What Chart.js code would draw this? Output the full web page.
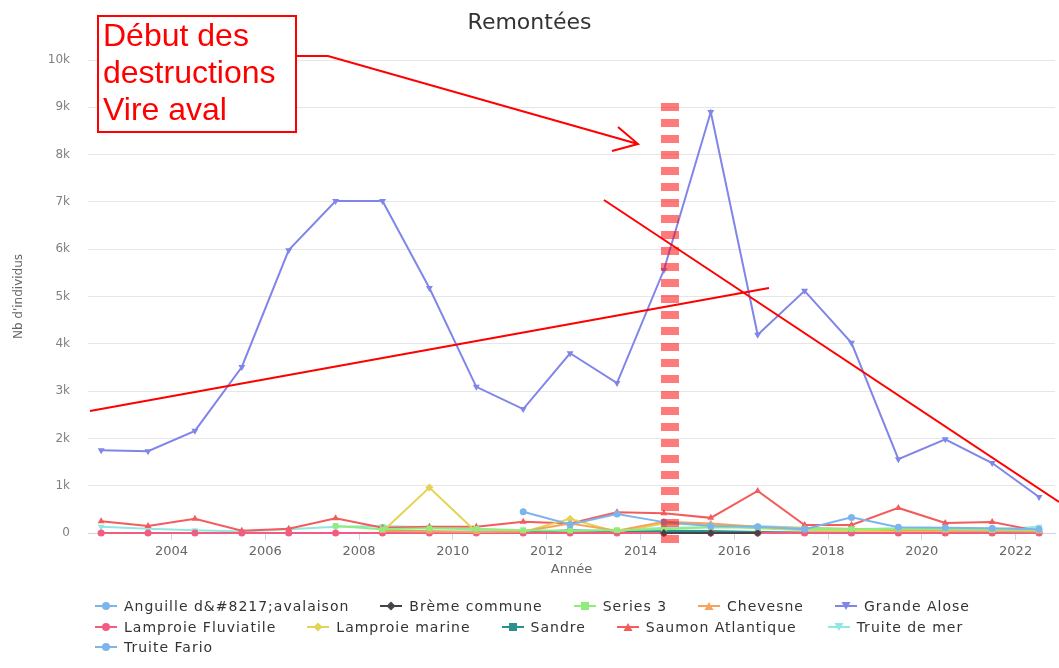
<!DOCTYPE html>
<html>
<head>
<meta charset="utf-8">
<title>Remontées</title>
<script src="https://cdn.jsdelivr.net/npm/chart.js@4/dist/chart.umd.min.js"></script>
<style>
  html, body { margin: 0; padding: 0; background: #fff; }
  #wrap { position: relative; width: 1059px; height: 668px; overflow: hidden; }
  #legend {
    position: absolute; left: 95px; top: 596px; width: 920px;
    display: flex; flex-wrap: wrap;
    font: 14px "DejaVu Sans", sans-serif; letter-spacing: 1px; color: #333;
  }
  .item { display: flex; align-items: center; height: 20.5px; margin-right: 31px; white-space: nowrap; }
  .item svg { margin-right: 7px; }
</style>
</head>
<body>
<div id="wrap">
  <canvas id="chart" width="1059" height="668"></canvas>
  <div id="legend"></div>
</div>
<script>
// années (points placés en milieu d'année)
const years = [2002, 2003, 2004, 2005, 2006, 2007, 2008, 2009, 2010, 2011, 2012,
               2013, 2014, 2015, 2016, 2017, 2018, 2019, 2020, 2021, 2022];
const xTicks = [2004, 2006, 2008, 2010, 2012, 2014, 2016, 2018, 2020, 2022];

// séries
const anguille = [null, null, null, null, null, null, null, null, null, 450, 180,
                  400, 230, 150, 130, 80, 330, 120, 110, 100, 80];
const breme = [null, null, null, null, null, null, null, null, null, null, null,
               null, 0, 0, 0, null, null, null, null, null, null];
const series3 = [null, null, null, null, null, 150, 80, 100, 90, 60, 50,
                 60, 80, 120, 110, 90, 80, 90, 80, 70, 60];
const chevesne = [null, null, null, null, null, null, 40, 30, 20, 30, 200,
                  50, 240, 200, 130, 100, 90, 60, 50, 40, 30];
const grandeAlose = [1750, 1730, 2160, 3510, 5980, 7020, 7020, 5180, 3090, 2620, 3800,
                     3170, 5560, 8900, 4190, 5120, 4020, 1560, 1980, 1480, 760];
const lamproieFluviatile = [0, 0, 0, 0, 0, 0, 0, 0, 0, 0, 0,
                            0, 0, 0, 0, 0, 0, 0, 0, 0, 0];
const lamproieMarine = [null, null, null, null, null, null, 30, 960, 20, 20, 300,
                        20, 200, 170, 100, 60, 40, 30, 30, 30, 20];
const sandre = [null, null, null, null, null, null, 40, 30, 20, 10, 60,
                30, 50, 40, 20, 10, 10, 10, 10, 10, 10];
const saumon = [250, 150, 300, 50, 90, 310, 110, 130, 130, 240, 200,
                440, 420, 320, 890, 170, 170, 530, 210, 230, 40];
const truiteMer = [130, 90, 60, 30, 80, 130, 150, 120, 60, 40, 40,
                   60, 110, 120, 150, 110, 80, 100, 90, 70, 130];
const truiteFario = [null, null, null, null, null, null, null, null, null, null, null,
                     null, null, null, null, null, null, null, null, null, null];

const seriesNames = ['Anguille d&#8217;avalaison', 'Brème commune', 'Series 3', 'Chevesne',
                     'Grande Alose', 'Lamproie Fluviatile', 'Lamproie marine', 'Sandre',
                     'Saumon Atlantique', 'Truite de mer', 'Truite Fario'];
const seriesValues = [anguille, breme, series3, chevesne, grandeAlose, lamproieFluviatile,
                      lamproieMarine, sandre, saumon, truiteMer, truiteFario];

// palette et symboles Highcharts par défaut
const colors = ['#7cb5ec', '#434348', '#90ed7d', '#f7a35c', '#8085e9',
                '#f15c80', '#e4d354', '#2b908f', '#f45b5b', '#91e8e1'];
const symbols = ['circle', 'diamond', 'square', 'triangle', 'triangle-down'];

function pointStyleOf(sym) {
    if (sym === 'diamond') return 'rectRot';
    if (sym === 'square') return 'rect';
    if (sym === 'triangle' || sym === 'triangle-down') return 'triangle';
    return 'circle';
}

const datasets = seriesNames.map((name, i) => {
    const color = colors[i % colors.length];
    const sym = symbols[i % symbols.length];
    return {
        label: name,
        data: years.map((yr, k) => ({ x: yr + 0.5, y: seriesValues[i][k] })),
        borderColor: color,
        backgroundColor: color,
        borderWidth: 2,
        pointStyle: pointStyleOf(sym),
        pointRotation: sym === 'triangle-down' ? 180 : 0,
        pointRadius: sym === 'circle' ? 3.5 : 4,
        pointBorderWidth: 0,
        pointBackgroundColor: color,
        tension: 0,
        clip: false
    };
});

/**
 * Annotations rouges dessinées à la main sur la capture
 */
const annotations = {
    id: 'annotations',
    afterDraw(chart) {
        const ctx = chart.ctx;
        ctx.save();
        // barre verticale pointillée
        ctx.strokeStyle = 'rgba(255, 0, 0, 0.52)';
        ctx.lineWidth = 18;
        ctx.setLineDash([8, 8]);
        ctx.lineDashOffset = 8;
        ctx.beginPath();
        ctx.moveTo(670, 95);
        ctx.lineTo(670, 545);
        ctx.stroke();
        ctx.setLineDash([]);

        ctx.strokeStyle = '#ff0000';
        ctx.lineWidth = 2;
        // droite montante
        ctx.beginPath();
        ctx.moveTo(90, 411);
        ctx.lineTo(769, 288);
        ctx.stroke();
        // droite descendante
        ctx.beginPath();
        ctx.moveTo(604, 200);
        ctx.lineTo(1059, 502);
        ctx.stroke();
        // flèche
        ctx.beginPath();
        ctx.moveTo(296, 56);
        ctx.lineTo(328, 56);
        ctx.lineTo(638, 144);
        ctx.moveTo(618, 127);
        ctx.lineTo(638, 144);
        ctx.lineTo(612, 151);
        ctx.stroke();
        // cadre + texte
        ctx.fillStyle = '#ffffff';
        ctx.fillRect(98, 16, 198, 116);
        ctx.strokeRect(98, 16, 198, 116);
        ctx.fillStyle = '#ff0000';
        ctx.font = '32px "Liberation Sans", Arial, sans-serif';
        ctx.textBaseline = 'alphabetic';
        ctx.fillText('Début des', 103, 46);
        ctx.fillText('destructions', 103, 83);
        ctx.fillText('Vire aval', 103, 120);
        ctx.restore();
    }
};

new Chart(document.getElementById('chart'), {
    type: 'line',
    data: { datasets: datasets },
    plugins: [annotations],
    options: {
        responsive: false,
        animation: false,
        layout: { padding: { top: 0, right: 0, bottom: 85, left: 0 } },
        plugins: {
            legend: { display: false },
            tooltip: { enabled: false },
            title: {
                display: true,
                text: 'Remontées',
                color: '#333333',
                font: { family: '"DejaVu Sans", sans-serif', size: 22, weight: 'normal', lineHeight: 1.2 },
                padding: { top: 9.8, bottom: 23.8 }
            }
        },
        scales: {
            x: {
                type: 'linear',
                min: 2002.22,
                max: 2022.84,
                afterBuildTicks: s => { s.ticks = xTicks.map(v => ({ value: v })); },
                afterFit: s => { s.height = 50; },
                ticks: {
                    color: '#666666',
                    font: { family: '"DejaVu Sans", sans-serif', size: 13 },
                    padding: 4,
                    maxRotation: 0,
                    autoSkip: false,
                    callback: v => String(v)
                },
                grid: { drawOnChartArea: false, drawTicks: true, tickLength: 7, color: '#ccd6eb' },
                border: { display: true, color: '#ccd6eb' },
                title: {
                    display: true,
                    text: 'Année',
                    color: '#666666',
                    font: { family: '"DejaVu Sans", sans-serif', size: 13, lineHeight: 1.2 },
                    padding: { top: 0, bottom: 5.2 }
                }
            },
            y: {
                min: 0,
                max: 10000,
                afterFit: s => { s.width = 88; },
                ticks: {
                    stepSize: 1000,
                    color: '#808080',
                    font: { family: '"DejaVu Sans", sans-serif', size: 12 },
                    padding: 18,
                    callback: v => v === 0 ? '0' : (v / 1000) + 'k'
                },
                grid: { color: '#e6e6e6', drawTicks: false },
                border: { display: false },
                title: {
                    display: true,
                    text: "Nb d'individus",
                    color: '#666666',
                    font: { family: '"DejaVu Sans", sans-serif', size: 12, lineHeight: 1.2 },
                    padding: { top: 12, bottom: 0 }
                }
            }
        }
    }
});

// légende HTML (rangées alignées à gauche comme Highcharts)
function symbolSvg(sym, color) {
    const ns = 'http://www.w3.org/2000/svg';
    const svg = document.createElementNS(ns, 'svg');
    svg.setAttribute('width', '22');
    svg.setAttribute('height', '12');
    const line = document.createElementNS(ns, 'line');
    line.setAttribute('x1', '0'); line.setAttribute('y1', '6');
    line.setAttribute('x2', '22'); line.setAttribute('y2', '6');
    line.setAttribute('stroke', color); line.setAttribute('stroke-width', '2');
    svg.appendChild(line);
    let shape;
    if (sym === 'circle') {
        shape = document.createElementNS(ns, 'circle');
        shape.setAttribute('cx', '11'); shape.setAttribute('cy', '6'); shape.setAttribute('r', '4');
    } else {
        shape = document.createElementNS(ns, 'polygon');
        const pts = {
            'diamond': '11,1.5 15.5,6 11,10.5 6.5,6',
            'square': '7,2 15,2 15,10 7,10',
            'triangle': '11,2 15.5,10 6.5,10',
            'triangle-down': '6.5,2 15.5,2 11,10'
        }[sym];
        shape.setAttribute('points', pts);
    }
    shape.setAttribute('fill', color);
    svg.appendChild(shape);
    return svg;
}

const legendEl = document.getElementById('legend');
seriesNames.forEach((name, i) => {
    const item = document.createElement('div');
    item.className = 'item';
    item.appendChild(symbolSvg(symbols[i % symbols.length], colors[i % colors.length]));
    const span = document.createElement('span');
    span.textContent = name;
    item.appendChild(span);
    legendEl.appendChild(item);
});
</script>
</body>
</html>
